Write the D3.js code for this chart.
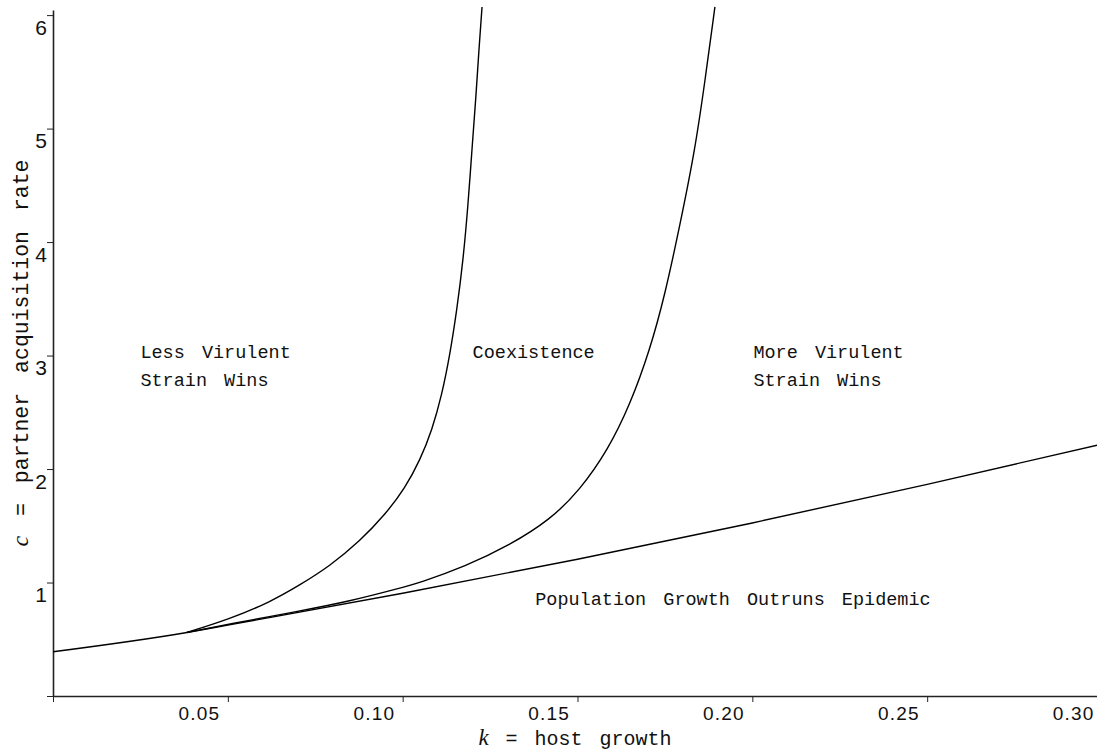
<!DOCTYPE html>
<html>
<head>
<meta charset="utf-8">
<script src="https://cdn.jsdelivr.net/npm/d3@7/dist/d3.min.js"></script>
<style>
  html, body { margin: 0; padding: 0; background: #fff; }
  svg { display: block; }
</style>
</head>
<body>
<script>
// ---- data ----
const xTicks = [0, 0.05, 0.10, 0.15, 0.20, 0.25, 0.30];
const xTickLabels = ["", "0.05", "0.10", "0.15", "0.20", "0.25", "0.30"];
const yTicks = [0, 1, 2, 3, 4, 5, 6];
const yTickLabels = ["", "1", "2", "3", "4", "5", "6"];

// Population-growth threshold line
const lineK = [0.000, 0.0383, 0.050, 0.100, 0.150, 0.200, 0.250, 0.300];
const lineC = [0.39, 0.56, 0.625, 0.905, 1.205, 1.525, 1.865, 2.22];

// Boundary: less virulent strain wins / coexistence
const curve1K = [0.0383, 0.0506, 0.0621, 0.0706, 0.0792, 0.0878, 0.0949, 0.1007, 0.1050, 0.1084,
                 0.1112, 0.1135, 0.1155, 0.1173, 0.1187, 0.1198, 0.1210, 0.1218, 0.1227];
const curve1C = [0.56, 0.679, 0.828, 0.978, 1.146, 1.366, 1.595, 1.833, 2.080, 2.344,
                 2.652, 3.005, 3.401, 3.842, 4.327, 4.811, 5.296, 5.693, 6.072];

// Boundary: coexistence / more virulent strain wins
const curve2K = [0.0383, 0.0500, 0.0700, 0.0849, 0.0992, 0.1050, 0.1178, 0.1307, 0.1421, 0.1507,
                 0.1587, 0.1650, 0.1707, 0.1750, 0.1793, 0.1836, 0.1865, 0.1893];
const curve2C = [0.56, 0.632, 0.745, 0.835, 0.950, 1.000, 1.140, 1.331, 1.551, 1.815,
                 2.168, 2.564, 3.049, 3.534, 4.150, 4.811, 5.428, 6.072];

const regionLabels = [
  { lines: ["Less Virulent", "Strain Wins"], k: 0.0250, c: 2.98 },
  { lines: ["Coexistence"], k: 0.1200, c: 2.98 },
  { lines: ["More Virulent", "Strain Wins"], k: 0.2003, c: 2.98 },
  { lines: ["Population Growth Outruns Epidemic"], k: 0.1379, c: 0.80 }
];

const xAxisTitle = { italic: "k", rest: " = host growth" };
const yAxisTitle = { italic: "c", rest: " = partner acquisition rate" };

// ---- layout ----
const W = 1097, H = 751;
const svg = d3.select("body").append("svg").attr("width", W).attr("height", H);

const x = d3.scaleLinear().domain([0, 0.30]).range([53, 1102]);
const y = d3.scaleLinear().domain([0, 6.045]).range([696, 10]);

// axes
const xAxis = d3.axisBottom(x).tickValues(xTicks).tickSize(6).tickSizeOuter(0)
  .tickFormat((d, i) => xTickLabels[i]);
const gx = svg.append("g").attr("transform", `translate(0,${y(0)})`).call(xAxis);
gx.select(".domain").attr("stroke", "#222").attr("stroke-width", 1.6);
gx.selectAll(".tick line").attr("stroke", "#222").attr("stroke-width", 1);
gx.selectAll(".tick text")
  .attr("font-family", "'Liberation Sans', Arial, sans-serif")
  .attr("font-size", 19).attr("letter-spacing", 1.2)
  .attr("fill", "#111")
  .attr("text-anchor", "end").attr("x", -8).attr("y", 24).attr("dy", 0);

const yAxis = d3.axisLeft(y).tickValues(yTicks).tickSize(6).tickSizeOuter(0)
  .tickFormat((d, i) => yTickLabels[i]);
const gy = svg.append("g").attr("transform", `translate(${x(0)},0)`).call(yAxis);
gy.select(".domain").attr("stroke", "#222").attr("stroke-width", 1.6);
gy.selectAll(".tick line").attr("stroke", "#222").attr("stroke-width", 1);
gy.selectAll(".tick text")
  .attr("font-family", "'Liberation Sans', Arial, sans-serif")
  .attr("font-size", 21)
  .attr("fill", "#111")
  .attr("text-anchor", "end").attr("x", -6).attr("y", 19).attr("dy", 0);

// curves
const zip = (a, b) => a.map((v, i) => [v, b[i]]);
const straightGen = d3.line().x(d => x(d[0])).y(d => y(d[1])).curve(d3.curveMonotoneX);
const curveGen = d3.line().x(d => x(d[0])).y(d => y(d[1])).curve(d3.curveBasis);

svg.append("clipPath").attr("id", "plot")
  .append("rect").attr("x", x(0)).attr("y", 0).attr("width", W - x(0)).attr("height", y(0));

const curves = svg.append("g").attr("clip-path", "url(#plot)")
  .attr("fill", "none").attr("stroke", "#000").attr("stroke-width", 1.4);
curves.append("path").attr("d", straightGen(zip(lineK, lineC)));
curves.append("path").attr("d", curveGen(zip(curve1K, curve1C)));
curves.append("path").attr("d", curveGen(zip(curve2K, curve2C)));

// region labels
const mono = "'Liberation Mono', 'DejaVu Sans Mono', monospace";
regionLabels.forEach(lab => {
  const t = svg.append("text")
    .attr("font-family", mono).attr("font-size", 18.5)
    .attr("word-spacing", 6).attr("fill", "#111");
  lab.lines.forEach((s, i) => {
    t.append("tspan").attr("x", x(lab.k)).attr("y", y(lab.c) + i * 28).text(s);
  });
});

// axis titles
const xt = svg.append("text")
  .attr("x", (x(0) + W) / 2).attr("y", 745)
  .attr("text-anchor", "middle")
  .attr("font-family", mono).attr("font-size", 20).attr("fill", "#111")
  .attr("word-spacing", 5);
xt.append("tspan").attr("font-family", "'Liberation Serif', serif").attr("font-style", "italic").attr("font-size", 23).text(xAxisTitle.italic);
xt.append("tspan").text(xAxisTitle.rest);

const yt = svg.append("text")
  .attr("transform", `translate(28,${(y(0) + y(6.045)) / 2}) rotate(-90)`)
  .attr("text-anchor", "middle")
  .attr("font-family", mono).attr("font-size", 21.5).attr("fill", "#111")
  .attr("word-spacing", 7);
yt.append("tspan").attr("font-family", "'Liberation Serif', serif").attr("font-style", "italic").attr("font-size", 24).text(yAxisTitle.italic);
yt.append("tspan").text(yAxisTitle.rest);
</script>
</body>
</html>
